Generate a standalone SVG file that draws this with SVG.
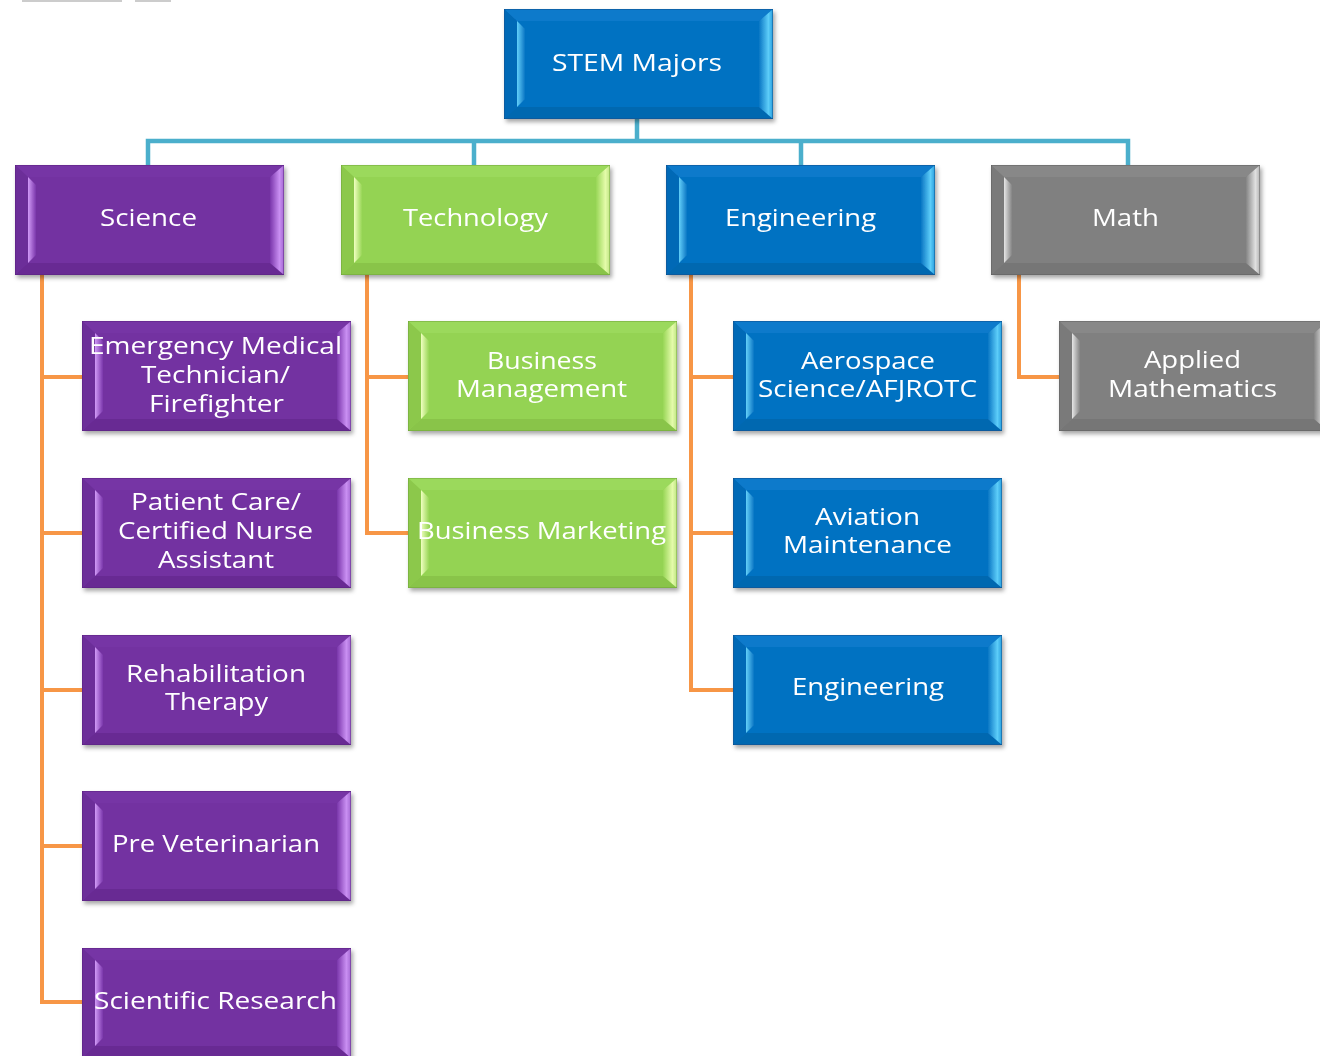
<svg xmlns="http://www.w3.org/2000/svg" xmlns:xlink="http://www.w3.org/1999/xlink" width="1320" height="1056" viewBox="0 0 1320 1056">
<style>
.t{font-family:"Open Sans","DejaVu Sans",sans-serif;font-size:24px;fill:#ffffff;text-anchor:middle}
.teal{stroke:#4bafcc;stroke-width:4.5;fill:none}
.orng{stroke:#f79646;stroke-width:4;fill:none}
</style>
<defs>
<filter id="sh" x="-5%" y="-5%" width="115%" height="120%">
<feDropShadow dx="2" dy="3" stdDeviation="2" flood-color="#000" flood-opacity="0.35"/>
</filter>
<linearGradient id="lp" x1="0" y1="0" x2="1" y2="0"><stop offset="0" stop-color="#d19af7"/><stop offset="1" stop-color="#7a36ab"/></linearGradient>
<linearGradient id="rp" x1="0" y1="0" x2="1" y2="0"><stop offset="0" stop-color="#7a36ab"/><stop offset="0.7" stop-color="#c98ff2"/><stop offset="1" stop-color="#a86cd6"/></linearGradient>
<linearGradient id="lg" x1="0" y1="0" x2="1" y2="0"><stop offset="0" stop-color="#f0ffc0"/><stop offset="1" stop-color="#98d656"/></linearGradient>
<linearGradient id="rg" x1="0" y1="0" x2="1" y2="0"><stop offset="0" stop-color="#98d656"/><stop offset="0.7" stop-color="#e4fbaa"/><stop offset="1" stop-color="#c2e886"/></linearGradient>
<linearGradient id="lb" x1="0" y1="0" x2="1" y2="0"><stop offset="0" stop-color="#62cff9"/><stop offset="1" stop-color="#0a76c4"/></linearGradient>
<linearGradient id="rb" x1="0" y1="0" x2="1" y2="0"><stop offset="0" stop-color="#0a76c4"/><stop offset="0.7" stop-color="#5ccdf9"/><stop offset="1" stop-color="#2ea2e0"/></linearGradient>
<linearGradient id="lgr" x1="0" y1="0" x2="1" y2="0"><stop offset="0" stop-color="#e6e6e6"/><stop offset="1" stop-color="#848484"/></linearGradient>
<linearGradient id="rgr" x1="0" y1="0" x2="1" y2="0"><stop offset="0" stop-color="#848484"/><stop offset="0.7" stop-color="#e0e0e0"/><stop offset="1" stop-color="#b8b8b8"/></linearGradient>
<symbol id="bp" width="269" height="110" overflow="visible">
<rect x="0.5" y="0.5" width="268" height="109" fill="#7331a1" stroke="#58207f"/>
<polygon points="0.5,0.5 268.5,0.5 255,12 13,12" fill="#7636a5"/>
<polygon points="0.5,109.5 13,98 255,98 268.5,109.5" fill="#682c93"/>
<polygon points="0.5,0.5 13,12 13,98 0.5,109.5" fill="#6c2d99"/>
<polygon points="13,12 21,20 21,90 13,98" fill="url(#lp)"/>
<polygon points="255,12 268.5,0.5 268.5,109.5 255,98" fill="url(#rp)"/>
</symbol>
<symbol id="bg" width="269" height="110" overflow="visible">
<rect x="0.5" y="0.5" width="268" height="109" fill="#94d352" stroke="#6fa23a"/>
<polygon points="0.5,0.5 268.5,0.5 255,12 13,12" fill="#9bd95c"/>
<polygon points="0.5,109.5 13,98 255,98 268.5,109.5" fill="#89c44a"/>
<polygon points="0.5,0.5 13,12 13,98 0.5,109.5" fill="#8cc84c"/>
<polygon points="13,12 21,20 21,90 13,98" fill="url(#lg)"/>
<polygon points="255,12 268.5,0.5 268.5,109.5 255,98" fill="url(#rg)"/>
</symbol>
<symbol id="bb" width="269" height="110" overflow="visible">
<rect x="0.5" y="0.5" width="268" height="109" fill="#0572c2" stroke="#0a4f8a"/>
<polygon points="0.5,0.5 268.5,0.5 255,12 13,12" fill="#0b7acb"/>
<polygon points="0.5,109.5 13,98 255,98 268.5,109.5" fill="#0567b0"/>
<polygon points="0.5,0.5 13,12 13,98 0.5,109.5" fill="#0669b6"/>
<polygon points="13,12 21,20 21,90 13,98" fill="url(#lb)"/>
<polygon points="255,12 268.5,0.5 268.5,109.5 255,98" fill="url(#rb)"/>
</symbol>
<symbol id="bgr" width="269" height="110" overflow="visible">
<rect x="0.5" y="0.5" width="268" height="109" fill="#808080" stroke="#5e5e5e"/>
<polygon points="0.5,0.5 268.5,0.5 255,12 13,12" fill="#888888"/>
<polygon points="0.5,109.5 13,98 255,98 268.5,109.5" fill="#767676"/>
<polygon points="0.5,0.5 13,12 13,98 0.5,109.5" fill="#7a7a7a"/>
<polygon points="13,12 21,20 21,90 13,98" fill="url(#lgr)"/>
<polygon points="255,12 268.5,0.5 268.5,109.5 255,98" fill="url(#rgr)"/>
</symbol>
</defs>
<rect width="1320" height="1056" fill="#ffffff"/>
<rect x="22" y="0" width="100" height="2" fill="#9a9a9a" opacity="0.5"/>
<rect x="135" y="0" width="36" height="2" fill="#9a9a9a" opacity="0.5"/>

<g id="connectors">
<path class="teal" d="M637,118 V141 M148,165 V141 H1128 V165 M474,141 V165 M801,141 V165"/>
<path class="orng" d="M42,275 V1002 H82 M42,377 H82 M42,533 H82 M42,690 H82 M42,846 H82"/>
<path class="orng" d="M367,275 V533 H408 M367,377 H408"/>
<path class="orng" d="M691,275 V690 H733 M691,377 H733 M691,533 H733"/>
<path class="orng" d="M1019,275 V377 H1059"/>
</g>

<g id="stem" filter="url(#sh)"><use xlink:href="#bb" x="504" y="9"/><text class="t" x="637" y="71" textLength="170" lengthAdjust="spacingAndGlyphs">STEM Majors</text></g>

<g id="science" filter="url(#sh)"><use xlink:href="#bp" x="15" y="165"/><text class="t" x="148.5" y="226" textLength="97" lengthAdjust="spacingAndGlyphs">Science</text></g>
<g id="technology" filter="url(#sh)"><use xlink:href="#bg" x="341" y="165"/><text class="t" x="475.5" y="226" textLength="145" lengthAdjust="spacingAndGlyphs">Technology</text></g>
<g id="engineering" filter="url(#sh)"><use xlink:href="#bb" x="666" y="165"/><text class="t" x="800.5" y="226" textLength="151" lengthAdjust="spacingAndGlyphs">Engineering</text></g>
<g id="math" filter="url(#sh)"><use xlink:href="#bgr" x="991" y="165"/><text class="t" x="1125.5" y="226" textLength="67" lengthAdjust="spacingAndGlyphs">Math</text></g>

<g id="emt" filter="url(#sh)"><use xlink:href="#bp" x="82" y="321"/>
<text class="t" x="215.5" y="354" textLength="253" lengthAdjust="spacingAndGlyphs">Emergency Medical</text>
<text class="t" x="215.5" y="383" textLength="149" lengthAdjust="spacingAndGlyphs">Technician/</text>
<text class="t" x="216.5" y="412" textLength="135" lengthAdjust="spacingAndGlyphs">Firefighter</text></g>
<g id="patient" filter="url(#sh)"><use xlink:href="#bp" x="82" y="478"/>
<text class="t" x="216" y="510" textLength="170" lengthAdjust="spacingAndGlyphs">Patient Care/</text>
<text class="t" x="215.5" y="539" textLength="195" lengthAdjust="spacingAndGlyphs">Certified Nurse</text>
<text class="t" x="216" y="568" textLength="116" lengthAdjust="spacingAndGlyphs">Assistant</text></g>
<g id="rehab" filter="url(#sh)"><use xlink:href="#bp" x="82" y="635"/>
<text class="t" x="216" y="682" textLength="180" lengthAdjust="spacingAndGlyphs">Rehabilitation</text>
<text class="t" x="216.5" y="710" textLength="103" lengthAdjust="spacingAndGlyphs">Therapy</text></g>
<g id="prevet" filter="url(#sh)"><use xlink:href="#bp" x="82" y="791"/>
<text class="t" x="216" y="852" textLength="208" lengthAdjust="spacingAndGlyphs">Pre Veterinarian</text></g>
<g id="research" filter="url(#sh)"><use xlink:href="#bp" x="82" y="948"/>
<text class="t" x="215.5" y="1009" textLength="243" lengthAdjust="spacingAndGlyphs">Scientific Research</text></g>

<g id="bizmgmt" filter="url(#sh)"><use xlink:href="#bg" x="408" y="321"/>
<text class="t" x="542" y="369" textLength="110" lengthAdjust="spacingAndGlyphs">Business</text>
<text class="t" x="541.5" y="397" textLength="171" lengthAdjust="spacingAndGlyphs">Management</text></g>
<g id="bizmkt" filter="url(#sh)"><use xlink:href="#bg" x="408" y="478"/>
<text class="t" x="541.5" y="539" textLength="249" lengthAdjust="spacingAndGlyphs">Business Marketing</text></g>

<g id="aero" filter="url(#sh)"><use xlink:href="#bb" x="733" y="321"/>
<text class="t" x="868" y="369" textLength="134" lengthAdjust="spacingAndGlyphs">Aerospace</text>
<text class="t" x="867.5" y="397" textLength="219" lengthAdjust="spacingAndGlyphs">Science/AFJROTC</text></g>
<g id="aviation" filter="url(#sh)"><use xlink:href="#bb" x="733" y="478"/>
<text class="t" x="867.5" y="525" textLength="105" lengthAdjust="spacingAndGlyphs">Aviation</text>
<text class="t" x="867.5" y="553" textLength="169" lengthAdjust="spacingAndGlyphs">Maintenance</text></g>
<g id="eng2" filter="url(#sh)"><use xlink:href="#bb" x="733" y="635"/>
<text class="t" x="868" y="695" textLength="152" lengthAdjust="spacingAndGlyphs">Engineering</text></g>

<g id="applied" filter="url(#sh)"><use xlink:href="#bgr" x="1059" y="321"/>
<text class="t" x="1192.5" y="368" textLength="97" lengthAdjust="spacingAndGlyphs">Applied</text>
<text class="t" x="1192.5" y="397" textLength="169" lengthAdjust="spacingAndGlyphs">Mathematics</text></g>
</svg>
